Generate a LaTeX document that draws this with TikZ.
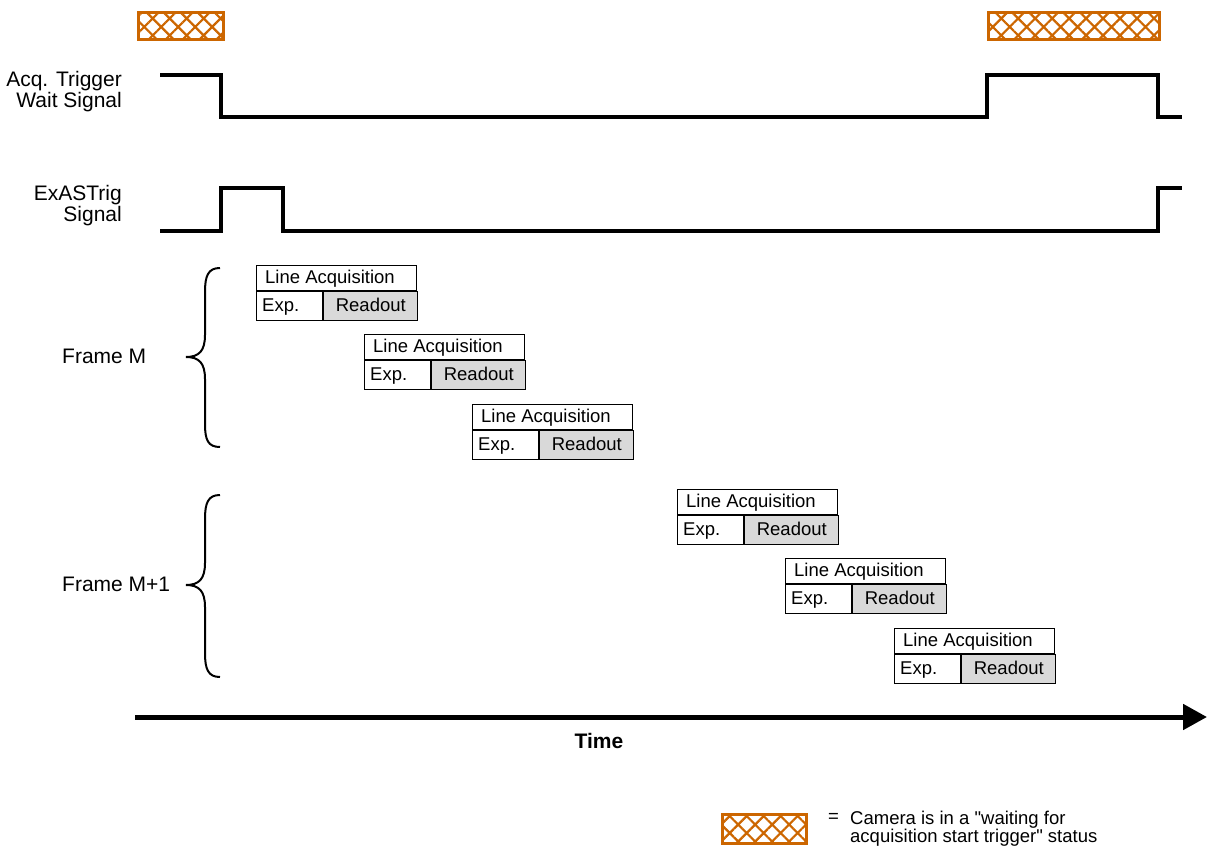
\documentclass[tikz,border=0pt]{standalone}
\usepackage{fontspec}
\setmainfont{Liberation Sans}
\usetikzlibrary{patterns.meta,arrows.meta}
\definecolor{waitorange}{RGB}{204,102,0}
\definecolor{readgray}{RGB}{217,217,217}
\tikzset{
  sig/.style={line width=3.2pt, line join=miter},
  waitbox/.style={draw=waitorange, line width=3pt,
    pattern={Hatch[angle=45,distance=12pt,line width=2.2pt]}, pattern color=waitorange},
  boxtxt/.style={font=\fontsize{18.5}{20}\selectfont, text height=13pt, text depth=2pt},
  lbl/.style={font=\fontsize{21}{21}\selectfont, align=right, anchor=east, inner sep=0pt},
  latop/.style={draw, line width=1.2pt, minimum width=160pt, minimum height=25pt, inner sep=0pt, anchor=north west},
  laexp/.style={draw, line width=1.2pt, minimum width=66pt, minimum height=29pt, inner sep=0pt, anchor=north west},
  laread/.style={draw, line width=1.2pt, fill=readgray, minimum width=94pt, minimum height=29pt, inner sep=0pt, anchor=north west},
  bracepath/.style={line width=2pt},
  framelbl/.style={font=\fontsize{21}{21}\selectfont, anchor=west, inner sep=0pt},
}
\newcommand{\lineacq}[3]{%
  \node[latop] (la#1) at (#2,#3) {};
  \node[boxtxt, anchor=west, inner sep=0pt] (lat#1) at ([xshift=9pt]la#1.west) {Line Acquisition};
  \node[laexp] (ex#1) at (la#1.south west) {};
  \node[boxtxt, anchor=west, inner sep=0pt] (ext#1) at ([xshift=6pt]ex#1.west) {Exp.};
  \node[laread, boxtxt] (ro#1) at (ex#1.north east) {Readout};
}
\begin{document}
\begin{tikzpicture}[x=1pt,y=-1pt]
\useasboundingbox (0,0) rectangle (1207,850);

% waiting boxes
\node[waitbox, minimum width=85pt, minimum height=27pt, inner sep=0pt, anchor=north west] (w1) at (137,11) {};
\node[waitbox, minimum width=171pt, minimum height=27pt, inner sep=0pt, anchor=north west] (w2) at (987,11) {};

% signal labels
\node[lbl] (acqlbl) at (122,92) {Acq. Trigger\\Wait Signal};
\node[lbl] (exlbl) at (122,206) {ExASTrig\\Signal};

% Acq trigger wait signal
\coordinate (a0) at (160,75);
\coordinate (a1) at (1182,117);
\draw[sig] (a0) -- (221,75) -- (221,117) -- (987,117) -- (987,75) -- (1158,75) -- (1158,117) -- (a1);

% ExASTrig signal
\coordinate (e0) at (160,231);
\coordinate (e1) at (1182,188);
\draw[sig] (e0) -- (221,231) -- (221,188) -- (283,188) -- (283,231) -- (1158,231) -- (1158,188) -- (e1);

% line acquisition boxes
\lineacq{1}{256}{265}
\lineacq{2}{364}{334}
\lineacq{3}{472}{404}
\lineacq{4}{677}{489}
\lineacq{5}{785}{558}
\lineacq{6}{894}{628}

% braces
\draw[bracepath] (220,268) .. controls (208,268) and (205,276) .. (205,292) -- (205,335)
  .. controls (205,351) and (199,357) .. (186,357)
  .. controls (199,357) and (205,363) .. (205,379) -- (205,424)
  .. controls (205,440) and (208,447) .. (220,447);
\node[framelbl] (fm) at (62,356) {Frame M};

\draw[bracepath] (220,495) .. controls (208,495) and (205,503) .. (205,519) -- (205,563)
  .. controls (205,579) and (199,585) .. (186,585)
  .. controls (199,585) and (205,591) .. (205,607) -- (205,653)
  .. controls (205,669) and (208,677) .. (220,677);
\node[framelbl] (fm1) at (62,584) {Frame M+1};

% time axis
\coordinate (t0) at (135,717);
\coordinate (t1) at (1207,717);
\draw[line width=5pt, -{Triangle[length=24pt,width=25pt]}] (t0) -- (t1);
\node[font=\bfseries\fontsize{21}{21}\selectfont] (time) at (599,741) {Time};

% legend
\node[waitbox, minimum width=84pt, minimum height=29pt, inner sep=0pt, anchor=north west] (wl) at (721,813) {};
\node[font=\fontsize{18.5}{20}\selectfont, anchor=west, inner sep=0pt] (eq) at (828,818) {=};
\node[font=\fontsize{18.5}{16.5}\selectfont, anchor=north west, align=left, inner sep=0pt] (legtxt) at (850,811) {Camera is in a \textquotedbl waiting for\\acquisition start trigger\textquotedbl{} status};
\end{tikzpicture}
\end{document}
